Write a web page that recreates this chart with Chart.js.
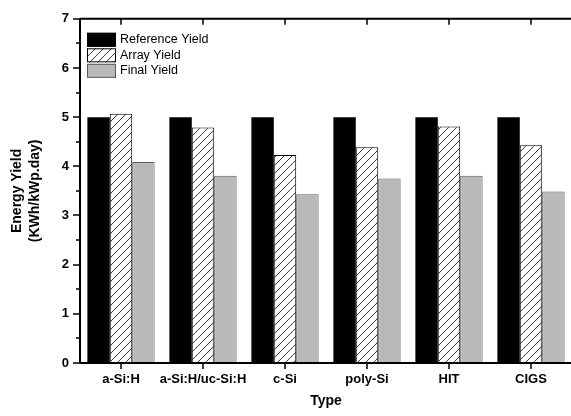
<!DOCTYPE html>
<html>
<head>
<meta charset="utf-8">
<script src="https://cdn.jsdelivr.net/npm/chart.js@4/dist/chart.umd.min.js"></script>
<style>
  html, body { margin: 0; padding: 0; background: #fff; overflow: hidden; }
  .chart__wrapper { width: 574px; height: 416px; }
</style>
</head>
<body>
<div class="chart__wrapper">
  <canvas id="energy-yield-chart" width="574" height="416"></canvas>
</div>
<script>
  const types = ["a-Si:H", "a-Si:H/uc-Si:H", "c-Si", "poly-Si", "HIT", "CIGS"];
  const referenceYield = [5, 5, 5, 5, 5, 5];
  const arrayYield = [5.07, 4.79, 4.23, 4.39, 4.81, 4.43];
  const finalYield = [4.09, 3.81, 3.43, 3.75, 3.81, 3.49];
  const yTicks = [0, 1, 2, 3, 4, 5, 6, 7];

  const fontFamily = "'Liberation Sans', Arial, sans-serif";

  // diagonal hatch for the array yield bars
  function makeHatch() {
    const tile = document.createElement("canvas");
    tile.width = 8;
    tile.height = 8;
    const c = tile.getContext("2d");
    c.fillStyle = "#fff";
    c.fillRect(0, 0, 8, 8);
    c.strokeStyle = "#222";
    c.lineWidth = 0.9;
    c.beginPath();
    c.moveTo(0, 8); c.lineTo(8, 0);
    c.moveTo(-2, 2); c.lineTo(2, -2);
    c.moveTo(6, 10); c.lineTo(10, 6);
    c.stroke();
    return c.createPattern(tile, "repeat");
  }

  const ctx = document.getElementById("energy-yield-chart").getContext("2d");
  const hatch = makeHatch();

  // frame, tick marks and the legend box inside the plot
  const framePlugin = {
    id: "frame",
    afterDraw(chart) {
      const c = chart.ctx;
      const area = chart.chartArea;
      const x = chart.scales.x;
      const y = chart.scales.y;
      c.save();
      c.strokeStyle = "#000";
      c.lineWidth = 2;
      c.beginPath();
      c.moveTo(area.left, area.top);
      c.lineTo(area.right, area.top);
      c.moveTo(area.left, area.top);
      c.lineTo(area.left, area.bottom);
      c.moveTo(area.left, area.bottom);
      c.lineTo(area.right, area.bottom);
      c.moveTo(area.right, area.top);
      c.lineTo(area.right, area.bottom);
      c.stroke();

      c.lineWidth = 1.5;
      c.beginPath();
      yTicks.forEach((v) => {
        const py = Math.round(y.getPixelForValue(v));
        c.moveTo(area.left, py);
        c.lineTo(area.left - 7, py);
        if (v < 7) {
          const pm = Math.round(y.getPixelForValue(v + 0.5));
          c.moveTo(area.left, pm);
          c.lineTo(area.left - 4, pm);
        }
      });
      types.forEach((t, i) => {
        const px = Math.round(x.getPixelForValue(i));
        c.moveTo(px, area.bottom);
        c.lineTo(px, area.bottom + 6);
        c.moveTo(px, area.top);
        c.lineTo(px, area.top + 6);
      });
      c.stroke();

      // legend
      const lx = area.left + 7;
      let ly = area.top + 14;
      c.font = "12.5px " + fontFamily;
      c.textBaseline = "middle";
      chart.data.datasets.forEach((ds) => {
        c.fillStyle = ds.backgroundColor;
        c.fillRect(lx, ly, 29, 14);
        c.lineWidth = 1;
        c.strokeStyle = ds.borderColor;
        c.strokeRect(lx + 0.5, ly + 0.5, 28, 13);
        c.fillStyle = "#000";
        c.fillText(ds.label, lx + 33, ly + 7);
        ly += 15.5;
      });
      c.restore();
    },
  };

  new Chart(ctx, {
    type: "bar",
    data: {
      labels: types,
      datasets: [
        {
          label: "Reference Yield",
          data: referenceYield,
          backgroundColor: "#000",
          borderColor: "#000",
          borderWidth: 0,
        },
        {
          label: "Array Yield",
          data: arrayYield,
          backgroundColor: hatch,
          borderColor: "#000",
          borderWidth: 1,
        },
        {
          label: "Final Yield",
          data: finalYield,
          backgroundColor: "#b9b9b9",
          borderColor: "#5a5a5a",
          borderWidth: 1,
        },
      ],
    },
    options: {
      responsive: false,
      animation: false,
      layout: { padding: { top: 14, right: 2, left: 0, bottom: 0 } },
      datasets: {
        bar: { categoryPercentage: 0.82, barPercentage: 1.0 },
      },
      scales: {
        x: {
          grid: { display: false, drawTicks: false },
          border: { display: false },
          ticks: {
            color: "#000",
            padding: 9,
            maxRotation: 0,
            autoSkip: false,
            font: { family: fontFamily, size: 13, weight: "bold" },
          },
          title: {
            display: true,
            text: "Type",
            color: "#000",
            padding: { top: 0, bottom: 6 },
            font: { family: fontFamily, size: 14, weight: "bold" },
          },
          afterFit(scale) {
            scale.height = 53;
          },
        },
        y: {
          min: 0,
          max: 7,
          grid: { display: false, drawTicks: false },
          border: { display: false },
          ticks: {
            stepSize: 1,
            color: "#000",
            padding: 11,
            font: { family: fontFamily, size: 13, weight: "bold" },
          },
          title: {
            display: true,
            text: ["Energy Yield", "(KWh/kWp.day)"],
            color: "#000",
            padding: { top: 8, bottom: 0 },
            font: { family: fontFamily, size: 14, weight: "bold", lineHeight: 1.3 },
          },
          afterFit(scale) {
            scale.width = 80;
          },
        },
      },
      plugins: {
        legend: { display: false },
        tooltip: { enabled: false },
      },
    },
    plugins: [framePlugin],
  });
</script>
</body>
</html>
